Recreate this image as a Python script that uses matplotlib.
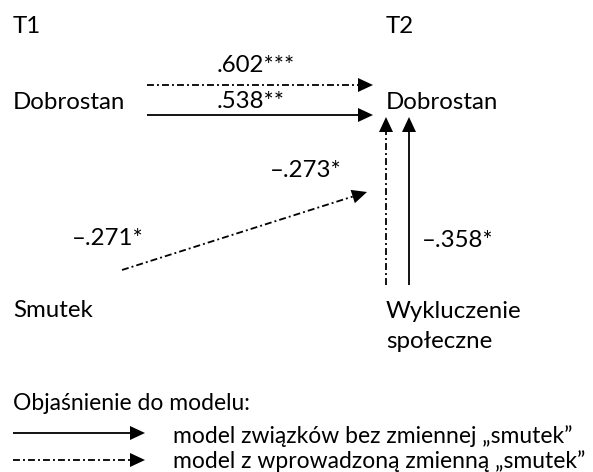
import matplotlib
matplotlib.use("Agg")
from matplotlib import pyplot as plt
from matplotlib.patches import Polygon

plt.rcParams['font.family'] = ['Lato', 'DejaVu Sans']
plt.rcParams['lines.scale_dashes'] = False

# node labels and path coefficients
time_labels = ["T1", "T2"]
node_labels = ["Dobrostan", "Dobrostan", "Smutek", "Wykluczenie", "społeczne"]
coef_labels = [".602***", ".538**", "\u2013.273*", "\u2013.271*", "\u2013.358*"]
legend_title = "Objaśnienie do modelu:"
legend_labels = ["model związków bez zmiennej \u201esmutek\u201d",
                 "model z wprowadzoną zmienną \u201esmutek\u201d"]

W, H = 593, 472
fig = plt.figure(figsize=(W / 100, H / 100), dpi=100)
ax = fig.add_axes([0, 0, 1, 1])
ax.set_xlim(0, W)
ax.set_ylim(H, 0)
ax.axis('off')

FS = 17.3
FS_LEG = 16.5
DASHDOT = (0, (5, 2.2, 1.4, 2.2))
LW = 1.3


def arrow(x0, y0, x1, y1, ls):
    # line up to the head base, then a filled triangle head
    dx, dy = x1 - x0, y1 - y0
    n = (dx ** 2 + dy ** 2) ** 0.5
    ux, uy = dx / n, dy / n
    hl, hw = 15, 7
    bx, by = x1 - ux * hl, y1 - uy * hl
    ax.plot([x0, bx], [y0, by], color='black', lw=LW, linestyle=ls,
            solid_capstyle='butt', dash_capstyle='butt')
    head = Polygon([[x1, y1], [bx - uy * hw, by + ux * hw], [bx + uy * hw, by - ux * hw]],
                   closed=True, facecolor='black', edgecolor='none')
    ax.add_patch(head)


def txt(x, y, s, fs=FS):
    ax.text(x, y, s, fontsize=fs, va='baseline', ha='left', color='black')


# time headers
txt(13, 33, time_labels[0])
txt(386, 33, time_labels[1])

# nodes
txt(13, 109, node_labels[0])
txt(386, 109, node_labels[1])
txt(13, 317, node_labels[2])
txt(386, 318, node_labels[3])
txt(386, 348, node_labels[4])

# coefficients
txt(217, 72, coef_labels[0])
txt(217, 108, coef_labels[1])
txt(270, 177, coef_labels[2])
txt(72, 245, coef_labels[3])
txt(422, 247, coef_labels[4])

# paths
arrow(147, 85, 373, 85, DASHDOT)
arrow(147, 115, 373, 115, '-')
arrow(122, 270, 367, 192, DASHDOT)
arrow(386, 285, 386, 117, DASHDOT)
arrow(409, 285, 409, 117, '-')

# legend
txt(13, 410, legend_title, FS_LEG)
arrow(13, 433, 145, 433, '-')
arrow(13, 460, 145, 460, DASHDOT)
txt(173, 443, legend_labels[0], FS_LEG)
txt(173, 468, legend_labels[1], FS_LEG)

fig.savefig("out.png", dpi=100)
